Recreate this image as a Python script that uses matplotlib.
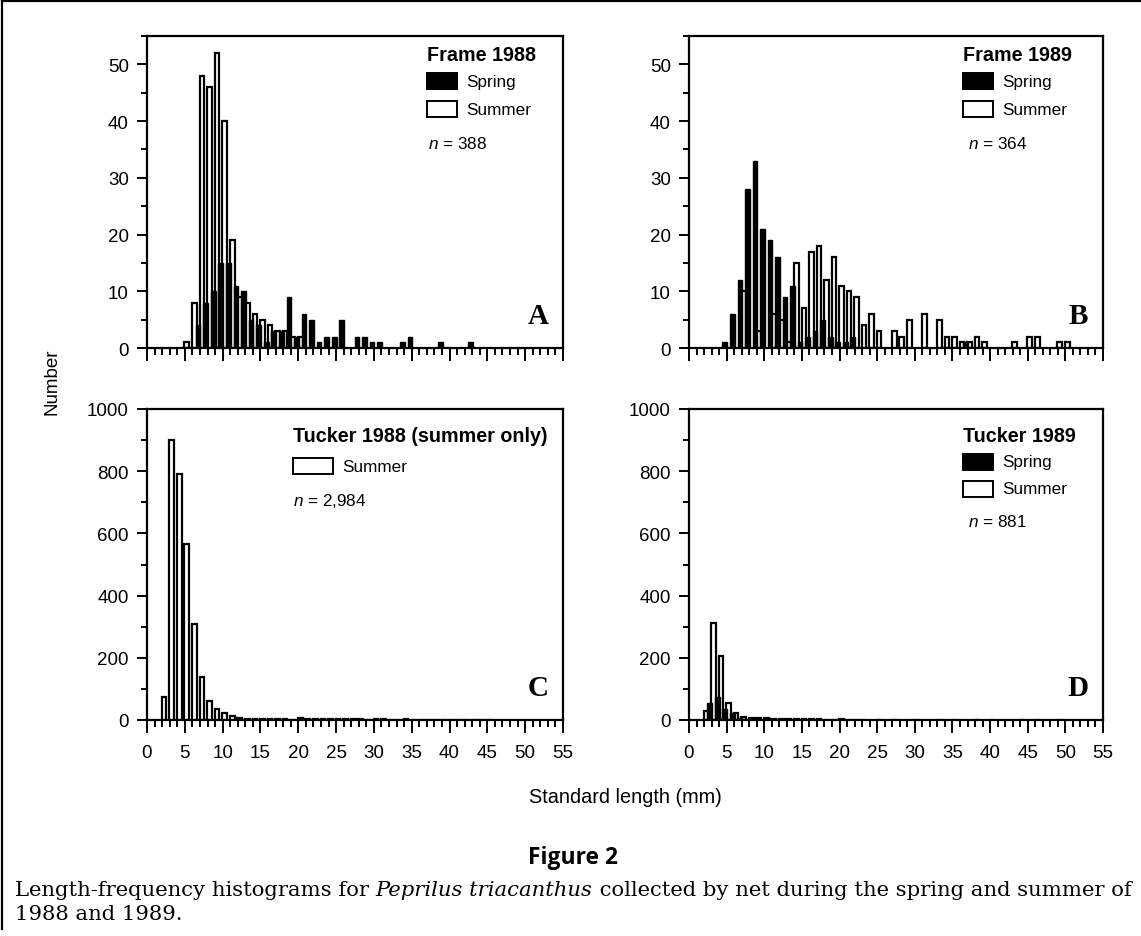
import numpy as np
import matplotlib
matplotlib.use("Agg")
import matplotlib.pyplot as plt
from matplotlib.ticker import MultipleLocator
from matplotlib.patches import Rectangle

plt.rcParams['font.family'] = ['Liberation Sans', 'DejaVu Sans']
plt.rcParams['mathtext.fontset'] = 'custom'
plt.rcParams['mathtext.it'] = 'Liberation Sans:italic'
plt.rcParams['mathtext.rm'] = 'Liberation Sans'

# ---------------- data (standard length bins in mm, counts) ----------------
a_summer_len = [5, 6, 7, 8, 9, 10, 11, 12, 13, 14, 15, 16, 17, 18, 19, 20]
a_summer_n = [1, 8, 48, 46, 52, 40, 19, 9, 8, 6, 5, 4, 3, 3, 2, 2]
a_spring_len = [6, 7, 8, 9, 10, 11, 12, 13, 14, 15, 16, 17, 18, 19, 20, 21, 22, 23,
                24, 25, 27, 28, 29, 30, 33, 34, 38, 42]
a_spring_n = [4, 8, 10, 15, 15, 11, 10, 5, 4, 1, 3, 3, 9, 2, 6, 5, 1, 2,
              2, 5, 2, 2, 1, 1, 1, 2, 1, 1]

b_summer_len = [7, 9, 11, 12, 13, 14, 15, 16, 17, 18, 19, 20, 21, 22, 23, 24, 25, 27,
                28, 29, 31, 33, 34, 35, 36, 37, 38, 39, 43, 45, 46, 49, 50]
b_summer_n = [10, 3, 6, 5, 1, 15, 7, 17, 18, 12, 16, 11, 10, 9, 4, 6, 3, 3,
              2, 5, 6, 5, 2, 2, 1, 1, 2, 1, 1, 2, 2, 1, 1]
b_spring_len = [4, 5, 6, 7, 8, 9, 10, 11, 12, 13, 14, 15, 16, 17, 18, 19, 20, 21, 36]
b_spring_n = [1, 6, 12, 28, 33, 21, 19, 16, 9, 11, 1, 2, 3, 5, 2, 1, 1, 2, 1]

c_summer_len = list(range(2, 46))
c_summer_n = [75, 900, 790, 565, 310, 138, 60, 35, 22, 14,
              6, 4, 4, 4, 3, 2, 2, 1, 8, 2, 2, 4, 3, 3, 2, 3, 2, 1, 2, 3,
              1, 1, 2, 1, 1, 1, 1, 1, 1, 1, 1, 1, 1, 1]

d_summer_len = [2, 3, 4, 5, 6, 7, 8, 9, 10, 11, 12, 13, 14, 15, 16, 17, 18, 19, 20,
                21, 22, 23, 25, 27, 30, 33, 35, 38, 40, 44, 46, 49]
d_summer_n = [28, 312, 205, 55, 22, 10, 6, 5, 5, 4, 3, 2, 2, 2, 4, 2, 1, 1, 2,
              1, 1, 1, 1, 1, 1, 1, 1, 1, 1, 1, 1, 1]
d_spring_len = [2, 3, 4, 5, 6]
d_spring_n = [55, 75, 35, 22, 5]

x_ticks = [0, 5, 10, 15, 20, 25, 30, 35, 40, 45, 50, 55]

# ---------------- figure ----------------
W, H = 1141, 937
fig = plt.figure(figsize=(W / 100, H / 100), dpi=100)


def fx(px):
    return px / W


def fy(py):
    return 1 - py / H


def make_ax(x0, x1, ytop, ybot):
    return fig.add_axes([fx(x0), fy(ybot), fx(x1) - fx(x0), (ybot - ytop) / H])


axA = make_ax(147, 563, 37, 349)
axB = make_ax(689, 1103, 37, 349)
axC = make_ax(147, 563, 410, 721)
axD = make_ax(689, 1103, 410, 721)

BW = 0.62


def draw(ax, summer, spring, ymax, ymaj, ymin, xlabels):
    if summer is not None:
        ax.bar(np.array(summer[0]) - 0.05, summer[1], width=BW, align='edge',
               color='white', edgecolor='black', linewidth=1.6, zorder=2)
    if spring is not None:
        ax.bar(np.array(spring[0]) + 0.45, spring[1], width=BW, align='edge',
               color='black', edgecolor='black', linewidth=1.0, zorder=3)
    ax.set_xlim(0, 55)
    ax.set_ylim(0, ymax)
    ax.set_xticks(x_ticks)
    ax.xaxis.set_minor_locator(MultipleLocator(1))
    ax.yaxis.set_major_locator(MultipleLocator(ymaj))
    ax.yaxis.set_minor_locator(MultipleLocator(ymin))
    ax.tick_params(axis='both', which='both', direction='out', top=False, right=False,
                   width=1.4, labelsize=13.5, colors='black')
    ax.tick_params(axis='x', which='major', length=9)
    ax.tick_params(axis='x', which='minor', length=5)
    ax.tick_params(axis='y', which='major', length=7, pad=6)
    ax.tick_params(axis='y', which='minor', length=4)
    if not xlabels:
        ax.tick_params(axis='x', labelbottom=False)
    else:
        ax.tick_params(axis='x', pad=8)
    for s in ax.spines.values():
        s.set_linewidth(1.6)


draw(axA, (a_summer_len, a_summer_n), (a_spring_len, a_spring_n), 55, 10, 5, False)
draw(axB, (b_summer_len, b_summer_n), (b_spring_len, b_spring_n), 55, 10, 5, False)
draw(axC, (c_summer_len, c_summer_n), None, 1000, 200, 100, True)
draw(axD, (d_summer_len, d_summer_n), (d_spring_len, d_spring_n), 1000, 200, 100, True)


def legend(ax, x0, axw, ytop, axh, title, title_y, rows, n_text, n_y, patch_w):
    # convert pixel positions into axes fractions
    def ax_x(px):
        return (px - x0) / axw

    def ax_y(py):
        return 1 - (py - ytop) / axh
    lx = title[1]
    ax.text(ax_x(lx), ax_y(title_y), title[0], transform=ax.transAxes,
            fontsize=14.2, fontweight='bold', va='center', ha='left')
    for label, color, yc in rows:
        ax.add_patch(Rectangle((ax_x(lx), ax_y(yc + 8)), patch_w / axw, 16 / axh,
                               transform=ax.transAxes, facecolor=color,
                               edgecolor='black', linewidth=1.4, clip_on=False))
        ax.text(ax_x(lx + patch_w + 9), ax_y(yc), label, transform=ax.transAxes,
                fontsize=12.3, va='center', ha='left')
    ax.text(ax_x(n_text[1]), ax_y(n_y), n_text[0], transform=ax.transAxes,
            fontsize=12.3, va='center', ha='left')


legend(axA, 147, 416, 37, 312, ("Frame 1988", 427), 55,
       [("Spring", 'black', 82), ("Summer", 'white', 110)], (r"$n$ = 388", 428), 144, 30)
legend(axB, 689, 414, 37, 312, ("Frame 1989", 963), 55,
       [("Spring", 'black', 82), ("Summer", 'white', 110)], (r"$n$ = 364", 968), 144, 30)
legend(axC, 147, 416, 410, 311, ("Tucker 1988 (summer only)", 293), 436,
       [("Summer", 'white', 467)], (r"$n$ = 2,984", 293), 501, 40)
legend(axD, 689, 414, 410, 311, ("Tucker 1989", 963), 436,
       [("Spring", 'black', 463), ("Summer", 'white', 490)], (r"$n$ = 881", 968), 522, 30)

for ax, lab in [(axA, "A"), (axB, "B"), (axC, "C"), (axD, "D")]:
    ax.text(0.94, 0.105, lab, transform=ax.transAxes, fontsize=21, fontweight='bold',
            family=['Liberation Serif', 'DejaVu Serif'], ha='center', va='center')

# shared axis labels
fig.text(fx(52), fy(382), "Number", rotation=90, ha='center', va='center', fontsize=13.5)
fig.text(fx(625), fy(798), "Standard length (mm)", ha='center', va='center', fontsize=14.3)

# figure caption
fig.text(fx(573), fy(858), "Figure 2", ha='center', va='center', fontsize=16.5,
         fontweight='bold', family=['Open Sans', 'DejaVu Sans'])
cap_ax = fig.add_axes([0, 0, 1, 1])
cap_ax.axis('off')
cap_ax.set_xlim(0, 1)
cap_ax.set_ylim(0, 1)
serif = ['DejaVu Serif']
CS = 15.2
t1 = cap_ax.text(fx(15), fy(900), "Length-frequency histograms for ", fontsize=CS,
                 family=serif, va='bottom', ha='left')
t2 = cap_ax.annotate("Peprilus triacanthus", xy=(1, 0), xycoords=t1, va='bottom',
                     ha='left', fontsize=CS, family=serif, style='italic')
t3 = cap_ax.annotate(" collected by net during the spring and summer of", xy=(1, 0),
                     xycoords=t2, va='bottom', ha='left', fontsize=CS, family=serif)
cap_ax.text(fx(15), fy(924), "1988 and 1989.", fontsize=CS, family=serif,
            va='bottom', ha='left')

# partial frame around the figure (top and left edges)
cap_ax.plot([fx(2), fx(1141)], [fy(2), fy(2)], color='black', lw=1.6)
cap_ax.plot([fx(2), fx(2)], [fy(2), fy(930)], color='black', lw=1.6)

fig.savefig("out.png", dpi=100)
